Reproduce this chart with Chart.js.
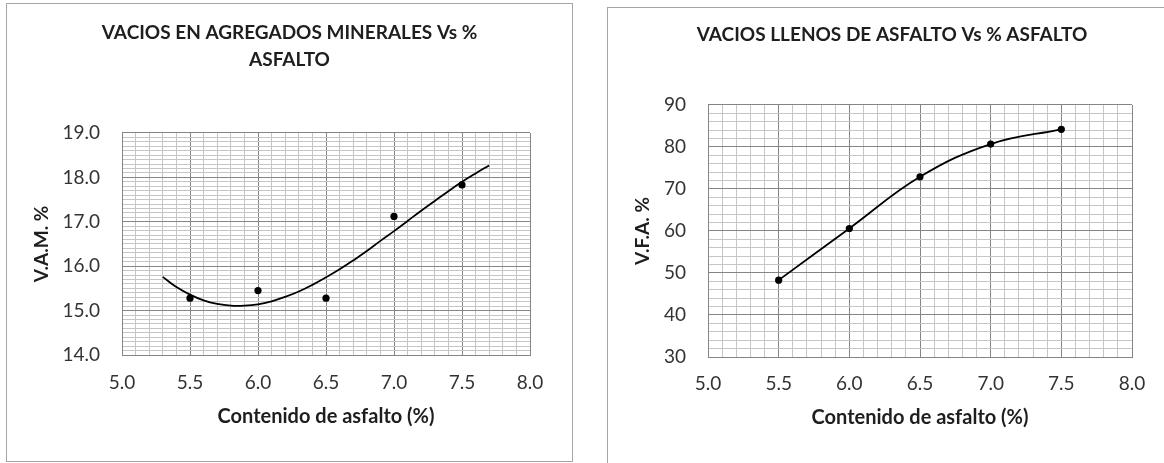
<!DOCTYPE html>
<html><head><meta charset="utf-8">
<script src="https://cdn.jsdelivr.net/npm/chart.js@4.4.1/dist/chart.umd.min.js"></script>
<style>
html,body{margin:0;padding:0;background:#fff;width:1164px;height:463px;overflow:hidden;}
.box{position:absolute;border:1px solid #a6a6a6;background:#fff;}
#b1{left:6px;top:3px;width:565px;height:457px;}
#b2{left:607px;top:7px;width:568px;height:468px;}
canvas{display:block;}
</style></head><body>
<div class="box" id="b1"><canvas id="c1" width="565" height="457"></canvas></div>
<div class="box" id="b2"><canvas id="c2" width="568" height="468"></canvas></div>
<script>
// ---- data ----
const vamAsphalt = [5.5, 6.0, 6.5, 7.0, 7.5];
const vamValues = [15.28, 15.45, 15.28, 17.12, 17.83];
const vamTrendX = [5.3,5.4,5.5,5.6,5.7,5.8,5.9,6.0,6.1,6.2,6.3,6.4,6.5,6.6,6.7,6.8,6.9,7.0,7.1,7.2,7.3,7.4,7.5,7.6,7.7];
const vamTrendY = [15.76,15.53,15.36,15.23,15.15,15.11,15.11,15.14,15.21,15.31,15.43,15.58,15.75,15.93,16.13,16.34,16.57,16.79,17.02,17.25,17.47,17.69,17.90,18.09,18.27];
const vfaAsphalt = [5.5, 6.0, 6.5, 7.0, 7.5];
const vfaValues = [48.3, 60.6, 72.9, 80.7, 84.2];
const xTickLabels = ['5.0','5.5','6.0','6.5','7.0','7.5','8.0'];
const vamTickLabels = ['14.0','15.0','16.0','17.0','18.0','19.0'];
const vfaTickLabels = ['30','40','50','60','70','80','90'];
const title1 = ['VACIOS EN AGREGADOS MINERALES Vs %','ASFALTO'];
const title2 = 'VACIOS LLENOS DE ASFALTO Vs % ASFALTO';
const xTitle = 'Contenido de asfalto (%)';
const yTitle1 = 'V.A.M. %';
const yTitle2 = 'V.F.A. %';

// ---- helpers ----
const FONT = 'Lato, "Open Sans", sans-serif';
const MAJOR = '#858585', MINOR = '#c6c6c6';
const TICK_COLOR = '#333333', TITLE_COLOR = '#1e1e1e';
function stepTicks(min, max, step){
  return (scale) => {
    const t = [];
    const n = Math.round((max - min) / step);
    for (let i = 0; i <= n; i++) t.push({value: +(min + i * step).toFixed(4)});
    scale.ticks = t;
  };
}
function labelFrom(labels){
  return (v) => { const s = labels.find(l => Math.abs(parseFloat(l) - v) < 1e-6); return s === undefined ? '' : s; };
}
function gridFrom(labels){
  return (ctx) => labels.some(l => Math.abs(parseFloat(l) - ctx.tick.value) < 1e-6) ? MAJOR : MINOR;
}
function spacer(w){
  return {type:'linear', position:'right', min:0, max:1, display:true,
    grid:{display:false}, ticks:{display:false}, border:{display:false},
    afterFit: s => { s.width = w; }};
}
function xAxis(tickPad, height){
  return {type:'linear', position:'bottom', min:5, max:8,
    afterBuildTicks: stepTicks(5, 8, 0.1),
    afterFit: s => { s.height = height; },
    grid:{color: gridFrom(xTickLabels), drawTicks:false, lineWidth:1},
    border:{color: MAJOR},
    ticks:{autoSkip:false, maxRotation:0, padding:tickPad, color:TICK_COLOR,
      font:{family:FONT, size:19}, callback: labelFrom(xTickLabels)},
    title:{display:true, text:xTitle, color:TITLE_COLOR, padding:{top:0,bottom:0},
      font:{family:FONT, size:20, weight:'bold'}}};
}
function yAxis(min, max, step, labels, width, title){
  return {type:'linear', position:'left', min, max,
    afterBuildTicks: stepTicks(min, max, step),
    afterFit: s => { s.width = width; },
    grid:{color: gridFrom(labels), drawTicks:false, lineWidth:1},
    border:{color: MAJOR},
    ticks:{autoSkip:false, padding:22, color:TICK_COLOR,
      font:{family:FONT, size:19}, callback: labelFrom(labels)},
    title:{display:true, text:title, color:TITLE_COLOR, padding:{top:23.6,bottom:0},
      font:{family:FONT, size:19, weight:'bold'}}};
}

new Chart(document.getElementById('c1'), {
  type:'scatter',
  data:{datasets:[
    {data: vamAsphalt.map((x,i)=>({x, y: vamValues[i]})), showLine:false,
     pointRadius:3.6, pointBackgroundColor:'#000', pointBorderColor:'#000', pointBorderWidth:0},
    {data: vamTrendX.map((x,i)=>({x, y: vamTrendY[i]})), showLine:true, tension:0.4,
     borderColor:'#000', borderWidth:1.8, pointRadius:0, fill:false}
  ]},
  options:{
    responsive:false, animation:false,
    layout:{padding:{left:0, right:0, top:0, bottom:457-351-74}},
    plugins:{legend:{display:false}, tooltip:{enabled:false},
      title:{display:true, text:title1, color:TITLE_COLOR, padding:{top:15.5, bottom:59.5},
        font:{family:FONT, size:19, weight:'bold', lineHeight:1.421}}},
    scales:{
      x: xAxis(16.6, 74),
      y: yAxis(14, 19, 0.1, vamTickLabels, 115, yTitle1),
      pad: spacer(42)
    }
  }
});

new Chart(document.getElementById('c2'), {
  type:'scatter',
  data:{datasets:[
    {data: vfaAsphalt.map((x,i)=>({x, y: vfaValues[i]})), showLine:true, tension:0.4,
     borderColor:'#000', borderWidth:1.8,
     pointRadius:3.6, pointBackgroundColor:'#000', pointBorderColor:'#000', pointBorderWidth:0}
  ]},
  options:{
    responsive:false, animation:false,
    layout:{padding:{left:0, right:0, top:0, bottom:468-349-73}},
    plugins:{legend:{display:false}, tooltip:{enabled:false},
      title:{display:true, text:title2, color:TITLE_COLOR, padding:{top:13.5, bottom:56.5},
        font:{family:FONT, size:19, weight:'bold', lineHeight:1.421}}},
    scales:{
      x: xAxis(15.6, 73),
      y: yAxis(30, 90, 2, vfaTickLabels, 100, yTitle2),
      pad: spacer(44)
    }
  }
});
</script>
</body></html>
